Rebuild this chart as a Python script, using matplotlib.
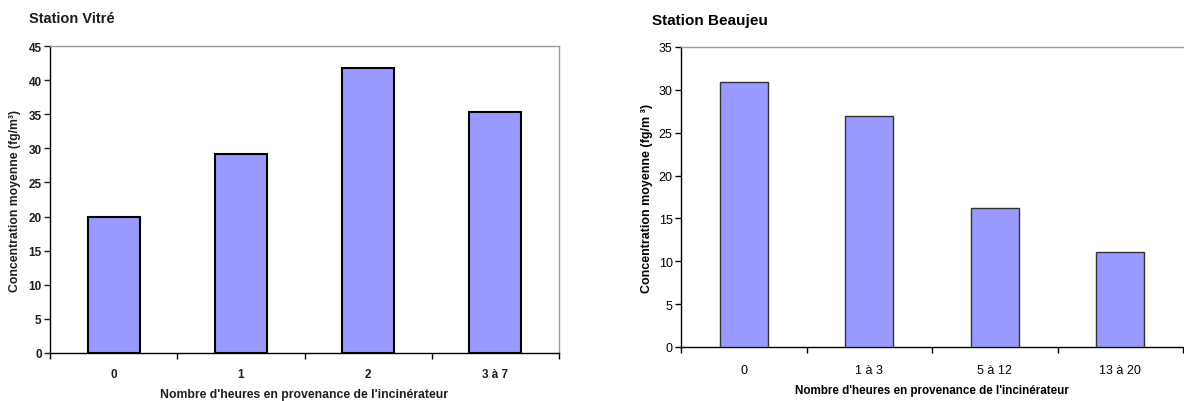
import matplotlib
matplotlib.use("Agg")
import matplotlib.pyplot as plt

plt.rcParams['font.family'] = ['Liberation Sans', 'DejaVu Sans']

vitre_cats = ["0", "1", "2", "3 à 7"]
vitre_vals = [20.0, 29.1, 41.8, 35.3]
beaujeu_cats = ["0", "1 à 3", "5 à 12", "13 à 20"]
beaujeu_vals = [30.9, 26.9, 16.2, 11.1]

W, H = 1184, 402
fig = plt.figure(figsize=(W / 100, H / 100), dpi=100)

def px_axes(x0, y_top, x1, y_bot):
    return fig.add_axes([x0 / W, 1 - y_bot / H, (x1 - x0) / W, (y_bot - y_top) / H])

def style(ax, cats, vals, ymax, ystep, width, ec, elw, tfs, tweight, tcolor, xpad):
    xs = list(range(len(cats)))
    ax.bar(xs, vals, width=width, color='#9999FF', edgecolor=ec, linewidth=elw, zorder=3)
    ax.set_xlim(-0.5, len(cats) - 0.5)
    ax.set_ylim(0, ymax)
    ax.set_yticks(list(range(0, ymax + 1, ystep)))
    ax.set_xticks(xs)
    ax.set_xticklabels(cats)
    ax.set_xticks([i - 0.5 for i in range(len(cats) + 1)], minor=True)
    ax.tick_params(axis='x', which='major', length=0, pad=xpad, labelsize=tfs, colors=tcolor)
    ax.tick_params(axis='x', which='minor', length=4, width=1, direction='out', color='black')
    ax.tick_params(axis='y', length=4, width=1, direction='out', labelsize=tfs, pad=2, colors=tcolor)
    for lab in ax.get_xticklabels() + ax.get_yticklabels():
        lab.set_fontweight(tweight)
    ax.spines['left'].set_color('black')
    ax.spines['bottom'].set_color('black')
    ax.spines['top'].set_color('#999999')
    ax.spines['right'].set_color('#999999')
    for s in ax.spines.values():
        s.set_linewidth(1.0)

dark = '#1e1e1e'

# Left chart
ax1 = px_axes(50, 47, 559, 354)
style(ax1, vitre_cats, vitre_vals, 45, 5, 0.41, 'black', 1.5, 8.5, 'bold', dark, 11)
ax1.set_ylabel("Concentration moyenne (fg/m³)", fontsize=8.8, fontweight='bold', color=dark, labelpad=5)
fig.text(304 / W, 1 - 395 / H, "Nombre d'heures en provenance de l'incinérateur",
         fontsize=8.8, fontweight='bold', color=dark, va='center', ha='center')
fig.text(29 / W, 1 - 19 / H, "Station Vitré", fontsize=10.5, fontweight='bold', color=dark, va='center', ha='left')

# Right chart
ax2 = px_axes(681, 48, 1183, 348)
style(ax2, beaujeu_cats, beaujeu_vals, 35, 5, 0.38, '#333333', 1.0, 9, 'normal', 'black', 12)
ax2.set_ylabel("Concentration moyenne (fg/m ³)", fontsize=9, fontweight='bold', labelpad=4)
fig.text(932 / W, 1 - 391 / H, "Nombre d'heures en provenance de l'incinérateur",
         fontsize=8.4, fontweight='bold', va='center', ha='center')
ax2.spines['right'].set_visible(False)
fig.text(652 / W, 1 - 21 / H, "Station Beaujeu", fontsize=11, fontweight='bold', va='center', ha='left')

fig.savefig("out.png", dpi=100)
